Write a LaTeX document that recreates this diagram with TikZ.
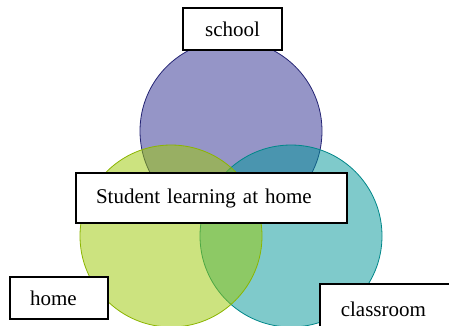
\documentclass[tikz,border=0pt]{standalone}
\usepackage{fontspec}
\setmainfont{Liberation Serif}
\begin{document}
\begin{tikzpicture}[x=1pt,y=-1pt,
  lbl/.style={draw=black, line width=1.6pt, fill=white, font=\fontsize{21}{25}\selectfont},
  ring/.style={line width=0.8pt, fill opacity=0.5}]
\useasboundingbox (0,0) rectangle (449,325);
\fill[white] (0,0) rectangle (449,325);
\definecolor{cpur}{RGB}{45,45,145}
\definecolor{cteal}{RGB}{0,150,152}
\definecolor{cgrn}{RGB}{155,201,0}
\draw[ring, draw=cpur!80!black, fill=cpur] (231,131) circle[radius=91];
\draw[ring, draw=cteal!90!black, fill=cteal] (291,236) circle[radius=91];
\draw[ring, draw=cgrn!90!black, fill=cgrn] (171,236) circle[radius=91];
\node[lbl, minimum width=99, minimum height=42, inner sep=0pt] (school) at (232.5,29) {school};
\node[lbl, minimum width=271, minimum height=50, inner xsep=20, inner ysep=0, text width=231, align=left] (slh) at (211.5,198) {Student learning at home};
\node[lbl, minimum width=98, minimum height=42, inner xsep=20, inner ysep=0pt, text width=58, align=left] (home) at (59,298) {home};
\node[lbl, anchor=north west, minimum width=140, minimum height=60, inner xsep=21, inner ysep=0, text width=98, align=left] (cls) at (319,283) {\raisebox{10pt}{classroom}};
\end{tikzpicture}
\end{document}
